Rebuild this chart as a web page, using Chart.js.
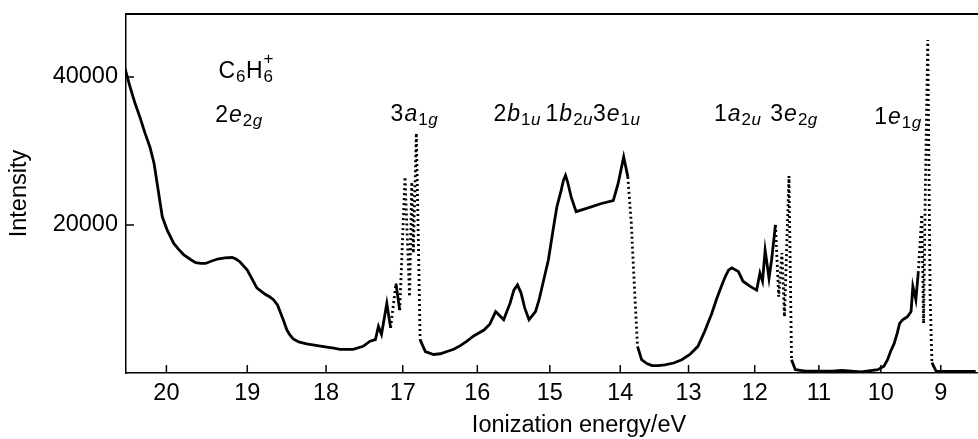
<!DOCTYPE html>
<html>
<head>
<meta charset="utf-8">
<title>C6H6+ photoelectron spectrum</title>
<script src="https://cdn.jsdelivr.net/npm/chart.js@4.4.1/dist/chart.umd.min.js"></script>
<style>
  html, body { margin: 0; padding: 0; background: #fff; }
  #wrap { width: 978px; height: 439px; position: relative; }
</style>
</head>
<body>
<div id="wrap"><canvas id="chart"></canvas></div>
<script>
// spectrum: ionization energy (eV) -> intensity
const energy = [
  20.50, 20.44, 20.38, 20.32, 20.26, 20.20, 20.15, 20.10, 20.05, 19.99,
  19.91, 19.85, 19.79, 19.70, 19.64, 19.58, 19.52, 19.45, 19.37, 19.28,
  19.19, 19.14, 19.09, 19.05, 19.00, 18.88, 18.82, 18.77, 18.72, 18.67,
  18.62, 18.58, 18.54, 18.50, 18.46, 18.42, 18.35, 18.25, 17.99, 17.90,
  17.82, 17.65, 17.52, 17.43, 17.36, 17.32, 17.28, 17.21, 17.16, 17.09,
  17.04, 16.97, 16.91, 16.88, 16.86, 16.82, 16.79, 16.77, 16.70, 16.59,
  16.50, 16.41, 16.32, 16.23, 16.14, 16.05, 15.98, 15.91, 15.83, 15.75,
  15.70, 15.64, 15.55, 15.50, 15.45, 15.40, 15.35, 15.29, 15.20, 15.15,
  15.02, 14.94, 14.90, 14.84, 14.81, 14.78, 14.75, 14.70, 14.63, 14.46,
  14.27, 14.10, 14.03, 13.95, 13.89, 13.84, 13.80, 13.75, 13.69, 13.62,
  13.54, 13.45, 13.35, 13.22, 13.10, 12.98, 12.86, 12.76, 12.65, 12.58,
  12.50, 12.45, 12.40, 12.35, 12.25, 12.18, 12.07, 11.97, 11.92, 11.88,
  11.84, 11.78, 11.74, 11.68, 11.63, 11.58, 11.54, 11.47, 11.43, 11.37,
  11.21, 10.79, 10.63, 10.32, 10.05, 9.95, 9.89, 9.84, 9.78, 9.73,
  9.69, 9.64, 9.56, 9.50, 9.47, 9.42, 9.38, 9.32, 9.29, 9.26,
  9.22, 9.18, 9.15, 9.08, 8.90, 8.40
];
const intensity = [
  41100, 38600, 36400, 34500, 32400, 30500, 28300, 24700, 21100, 19300,
  17500, 16700, 16000, 15300, 14900, 14800, 14800, 15100, 15400, 15550,
  15600, 15400, 15000, 14500, 13900, 11500, 11000, 10600, 10300, 9900,
  9200, 8100, 7000, 5800, 5100, 4600, 4200, 3950, 3500, 3350,
  3200, 3200, 3600, 4300, 4500, 6300, 5200, 9400, 6100, 12100,
  8500, 26500, 10300, 25800, 16200, 32400, 16200, 4500, 2900, 2500,
  2600, 2900, 3200, 3700, 4300, 5000, 5400, 5800, 6600, 8300,
  7800, 7200, 9500, 11200, 11900, 10800, 8800, 7200, 8300, 9900,
  15300, 20200, 22500, 24700, 26000, 26700, 25800, 23800, 21800, 22300,
  22900, 23300, 25600, 29200, 26500, 20200, 12600, 3600, 1800, 1300,
  1000, 1000, 1100, 1350, 1800, 2500, 3600, 5600, 8100, 10000,
  11900, 13000, 13900, 14200, 13700, 12400, 11700, 11200, 13500, 12400,
  16600, 12800, 15300, 20000, 10300, 16200, 7600, 26600, 1800, 450,
  250, 250, 350, 150, 450, 900, 1800, 2900, 4000, 5400,
  6700, 7200, 7600, 8300, 11700, 9900, 13500, 21400, 6700, 25200,
  45000, 10300, 1400, 250, 200, 200
];
const tickEnergies = [20, 19, 18, 17, 16, 15, 14, 13, 12, 11, 10, 9];
const intensityTicks = [20000, 40000];

// band labels: [energy, intensity] anchor of the baseline start, then text pieces
const bandLabels = [
  { at: [19.36, 39800], parts: [['C', 'n'], ['6', 'sub'], ['H', 'n'], ['6', 'sub'], ['+', 'sup']] },
  { at: [19.40, 33900], parts: [['2', 'n'], ['e', 'i'], ['2', 'sub'], ['g', 'subi']] },
  { at: [17.16, 34000], parts: [['3', 'n'], ['a', 'i'], ['1', 'sub'], ['g', 'subi']] },
  { at: [15.78, 34000], parts: [['2', 'n'], ['b', 'i'], ['1', 'sub'], ['u', 'subi']] },
  { at: [15.06, 34000], parts: [['1', 'n'], ['b', 'i'], ['2', 'sub'], ['u', 'subi']] },
  { at: [14.39, 34000], parts: [['3', 'n'], ['e', 'i'], ['1', 'sub'], ['u', 'subi']] },
  { at: [12.62, 34000], parts: [['1', 'n'], ['a', 'i'], ['2', 'sub'], ['u', 'subi']] },
  { at: [11.76, 34000], parts: [['3', 'n'], ['e', 'i'], ['2', 'sub'], ['g', 'subi']] },
  { at: [10.11, 33700], parts: [['1', 'n'], ['e', 'i'], ['1', 'sub'], ['g', 'subi']] }
];

// the energy axis of the original is not linear: ~81 px/eV near 20 eV, ~60 px/eV near 9 eV
function axisPos(e) {
  return 60 * (e - 9) + 1.05 * ((e - 9.5) ** 2 - 0.25);
}

const FONT = '"Liberation Sans", Arial, Helvetica, sans-serif';

const points = energy.map((e, i) => ({ x: axisPos(e), y: intensity[i] }));

const frame = {
  id: 'frame',
  afterDraw(chart) {
    const { ctx, chartArea: a, scales: { x, y } } = chart;
    ctx.save();
    ctx.strokeStyle = '#000';
    // top border
    ctx.lineWidth = 2;
    ctx.beginPath();
    ctx.moveTo(a.left, a.top);
    ctx.lineTo(a.right, a.top);
    ctx.stroke();
    // inward tick marks
    ctx.lineWidth = 1.5;
    ctx.beginPath();
    tickEnergies.forEach(e => {
      const px = x.getPixelForValue(axisPos(e));
      ctx.moveTo(px, a.bottom);
      ctx.lineTo(px, a.bottom - 8);
    });
    intensityTicks.forEach(v => {
      const py = y.getPixelForValue(v);
      ctx.moveTo(a.left, py);
      ctx.lineTo(a.left + 8, py);
    });
    ctx.stroke();

    // axis titles
    ctx.fillStyle = '#000';
    ctx.font = '23.5px ' + FONT;
    ctx.textAlign = 'center';
    ctx.textBaseline = 'middle';
    ctx.fillText('Ionization energy/eV', 579, 426);
    ctx.translate(20, (a.top + a.bottom) / 2);
    ctx.rotate(-Math.PI / 2);
    ctx.fillText('Intensity', 0, 0);
    ctx.restore();

    // band labels
    ctx.save();
    ctx.fillStyle = '#000';
    ctx.textAlign = 'left';
    ctx.textBaseline = 'alphabetic';
    bandLabels.forEach(lab => {
      let cx = x.getPixelForValue(axisPos(lab.at[0]));
      const by = y.getPixelForValue(lab.at[1]);
      let prevX = cx;
      lab.parts.forEach(([txt, kind]) => {
        const small = kind !== 'n' && kind !== 'i';
        const italic = kind === 'i' || kind === 'subi';
        ctx.font = (italic ? 'italic ' : '') + (small ? '17px ' : '23px ') + FONT;
        let dy = 0;
        if (kind === 'sub' || kind === 'subi') dy = 4;
        if (kind === 'sup') { dy = -14; cx = prevX; }
        prevX = cx;
        ctx.fillText(txt, cx, by + dy);
        cx += ctx.measureText(txt).width + (small ? 0.5 : 1);
      });
    });
    ctx.restore();
  }
};

new Chart(document.getElementById('chart'), {
  type: 'line',
  data: {
    datasets: [{
      data: points,
      borderColor: '#000',
      borderWidth: 2.8,
      pointRadius: 0,
      tension: 0,
      fill: false,
      segment: {
        // steep recorded stretches come out dotted in the original
        borderDash: c => {
          const dx = Math.abs(c.p1.x - c.p0.x), dy = Math.abs(c.p1.y - c.p0.y);
          return dy > 40 && dy > 6 * dx ? [2, 3] : undefined;
        }
      }
    }]
  },
  options: {
    responsive: true,
    maintainAspectRatio: false,
    animation: false,
    layout: { padding: { top: 14, left: 0, right: 0, bottom: 0 } },
    plugins: { legend: { display: false }, tooltip: { enabled: false } },
    scales: {
      x: {
        type: 'linear',
        reverse: true,
        min: axisPos(8.36),
        max: axisPos(20.49),
        afterBuildTicks: s => { s.ticks = tickEnergies.map(e => ({ value: axisPos(e) })); },
        afterFit: s => { s.height = 66; s.paddingLeft = 0; s.paddingRight = 0; },
        grid: { display: false, drawTicks: false },
        border: { display: true, color: '#000', width: 1.5 },
        ticks: {
          autoSkip: false,
          maxRotation: 0,
          padding: 6,
          color: '#000',
          font: { family: FONT, size: 23.5 },
          callback: (v, i) => String(tickEnergies[i])
        }
      },
      y: {
        min: 0,
        max: 48500,
        afterBuildTicks: s => { s.ticks = intensityTicks.map(v => ({ value: v })); },
        afterFit: s => { s.width = 126; s.paddingTop = 0; s.paddingBottom = 0; },
        grid: { display: false, drawTicks: false },
        border: { display: true, color: '#000', width: 1.5 },
        ticks: {
          padding: 8,
          color: '#000',
          font: { family: FONT, size: 23.5 },
          callback: v => String(v)
        }
      }
    }
  },
  plugins: [frame]
});
</script>
</body>
</html>
